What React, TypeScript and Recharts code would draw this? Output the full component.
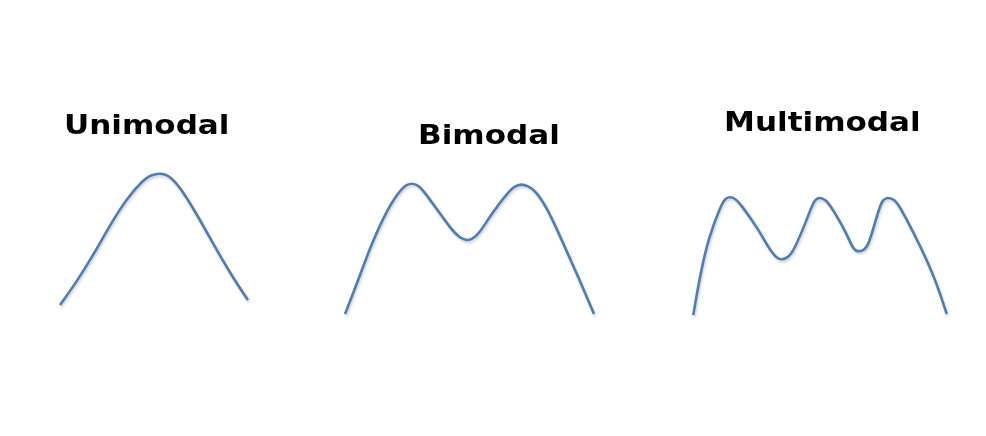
import React from "react";
import { LineChart, Line, XAxis, YAxis } from "recharts";

// Normalised positions (0–100) along each curve and relative density (0–100)
const uniX = [0, 8.9, 17.7, 26.6, 35.5, 44.3, 47.9, 53.2, 58.5, 65.6, 74.5, 83.3, 92.2, 100];
const uniY = [3.6, 20.2, 39.3, 60.7, 79.8, 92.9, 96.1, 97.9, 96.1, 84.5, 64.3, 42.9, 22.6, 7.1];

const biX = [0.4, 5.7, 11.0, 17.7, 23.0, 24.9, 27.0, 29.1, 31.0, 36.3, 42.9, 46.2, 48.9, 51.0, 53.5, 58.9, 65.5, 68.1, 70.8, 73.3, 76.1, 81.4, 86.7, 93.3, 99.6];
const biY = [4.1, 27.6, 52.9, 78.1, 90.8, 93.2, 94.3, 93.2, 90.8, 78.1, 62.1, 56.6, 54.7, 55.9, 58.6, 73.6, 88.5, 92.4, 93.8, 92.4, 89.7, 75.9, 55.2, 29.9, 4.1];

const multiX = [0.1, 2.8, 6.0, 11.3, 12.8, 14.6, 16.5, 18.5, 25.1, 30.3, 32.7, 34.9, 37.2, 39.5, 44.8, 47.6, 50.0, 52.4, 55.2, 60.5, 63.0, 65.1, 66.9, 69.0, 72.3, 74.4, 76.9, 79.3, 81.5, 88.7, 95.3, 99.9];
const multiY = [3.8, 34.6, 62.8, 89.8, 93.5, 94.8, 93.5, 89.8, 71.8, 53.8, 48.1, 46.2, 47.8, 52.5, 76.9, 92.7, 94.4, 92.5, 84.6, 66.7, 54.2, 52.5, 53.5, 56.4, 79.5, 92.7, 94.4, 92.7, 87.2, 60.2, 32.1, 4.6];

const titles = ["Unimodal", "Bimodal", "Multimodal"];

const toRows = (xs: number[], ys: number[]) => xs.map((x, i) => ({ x, y: ys[i] }));

const panels = [
  { rows: toRows(uniX, uniY), box: { left: 60, top: 170, width: 188, height: 140 }, title: { left: 64, top: 107 } },
  { rows: toRows(biX, biY), box: { left: 344, top: 175, width: 251, height: 145 }, title: { left: 418, top: 117 } },
  { rows: toRows(multiX, multiY), box: { left: 693, top: 190, width: 254, height: 130 }, title: { left: 724, top: 104 } },
];

const PAD = 10;

export default function App() {
  return (
    <div style={{ position: "absolute", left: 0, top: 0, width: 986, height: 436, background: "#fff", overflow: "hidden" }}>
      {panels.map((p, i) => (
        <React.Fragment key={i}>
          <div
            style={{
              position: "absolute",
              left: p.title.left,
              top: p.title.top,
              fontFamily: "'DejaVu Sans', sans-serif",
              fontWeight: 700,
              fontSize: 27,
              lineHeight: "36px",
              color: "#000",
              whiteSpace: "nowrap",
              transform: "scaleX(1.15)",
              transformOrigin: "left center",
            }}
          >
            {titles[i]}
          </div>
          <div
            style={{
              position: "absolute",
              left: p.box.left - PAD,
              top: p.box.top - PAD,
              filter: "drop-shadow(1px 2px 1px rgba(0,0,0,0.18))",
            }}
          >
            <LineChart
              width={p.box.width + 2 * PAD}
              height={p.box.height + 2 * PAD}
              data={p.rows}
              margin={{ top: PAD, right: PAD, bottom: PAD, left: PAD }}
            >
              <XAxis dataKey="x" type="number" domain={[0, 100]} hide />
              <YAxis type="number" domain={[0, 100]} hide />
              <Line
                type="basis"
                dataKey="y"
                stroke="#4a7ebb"
                strokeWidth={2.6}
                dot={false}
                activeDot={false}
                isAnimationActive={false}
              />
            </LineChart>
          </div>
        </React.Fragment>
      ))}
    </div>
  );
}
